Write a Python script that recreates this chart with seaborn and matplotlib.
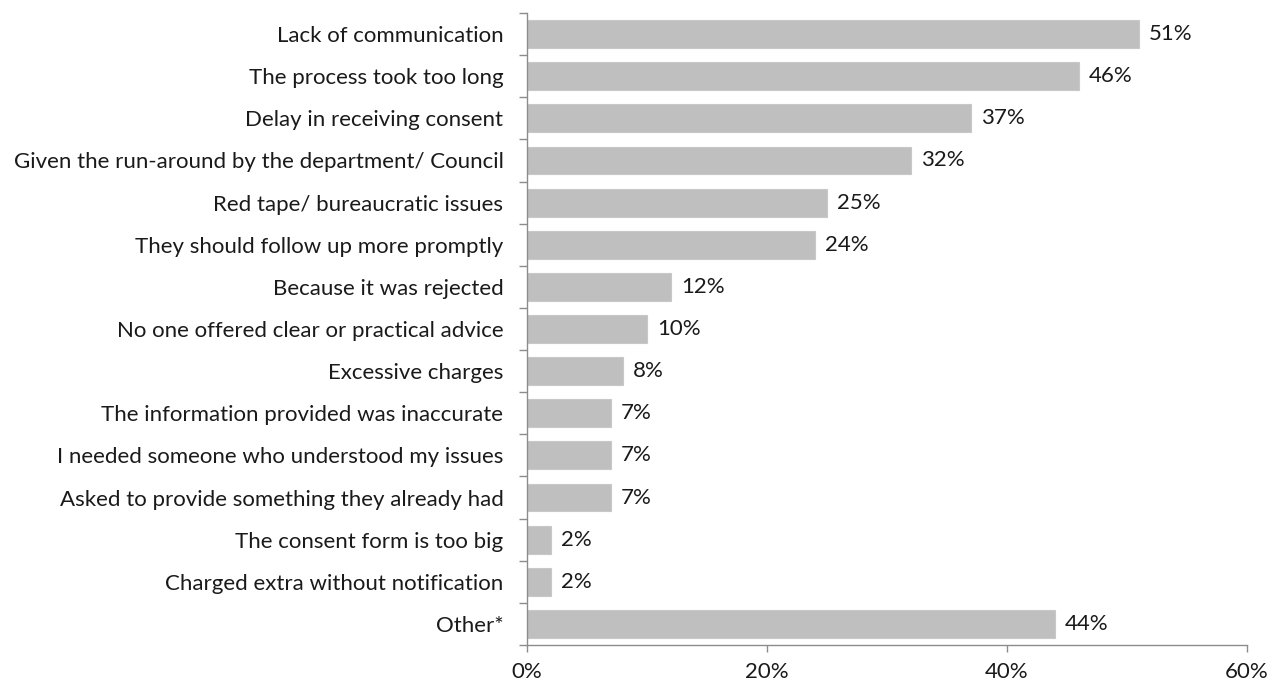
import matplotlib
matplotlib.use("Agg")
import matplotlib.pyplot as plt
import seaborn as sns
import pandas as pd
from matplotlib.ticker import FuncFormatter, FixedLocator

reasons = [
    "Lack of communication",
    "The process took too long",
    "Delay in receiving consent",
    "Given the run-around by the department/ Council",
    "Red tape/ bureaucratic issues",
    "They should follow up more promptly",
    "Because it was rejected",
    "No one offered clear or practical advice",
    "Excessive charges",
    "The information provided was inaccurate",
    "I needed someone who understood my issues",
    "Asked to provide something they already had",
    "The consent form is too big",
    "Charged extra without notification",
    "Other*",
]
shares = [51, 46, 37, 32, 25, 24, 12, 10, 8, 7, 7, 7, 2, 2, 44]
x_ticks = [0, 20, 40, 60]

df = pd.DataFrame({"reason": reasons, "share": shares})

sns.set_theme(style="white")
plt.rcParams["font.family"] = ["Lato", "DejaVu Sans"]

FS = 16
fig = plt.figure(figsize=(12.74, 6.86), dpi=100)
ax = fig.add_axes([527 / 1274, 1 - 645 / 686, 720 / 1274, 632 / 686])

sns.barplot(data=df, y="reason", x="share", orient="h", color="#BFBFBF",
            saturation=1, width=0.66, ax=ax, edgecolor="#C8C8C8", linewidth=0.8)

ax.set_xlim(0, 60)
ax.set_ylim(len(reasons) - 0.5, -0.5)
ax.xaxis.set_major_locator(FixedLocator(x_ticks))
ax.xaxis.set_major_formatter(FuncFormatter(lambda v, p: f"{v:.0f}%"))

# category-boundary tick marks on the y axis
ax.yaxis.set_major_locator(FixedLocator(range(len(reasons))))
ax.set_yticklabels(reasons)
ax.yaxis.set_minor_locator(FixedLocator([i - 0.5 for i in range(len(reasons) + 1)]))
ax.tick_params(axis="y", which="major", length=0, pad=17, labelsize=FS, labelcolor="#1a1a1a")
ax.tick_params(axis="y", which="minor", left=True, length=6, width=1, color="#8c8c8c", direction="out")
ax.tick_params(axis="x", which="major", bottom=True, length=5, width=1, color="#8c8c8c",
               direction="out", pad=7, labelsize=FS, labelcolor="#1a1a1a")

for side in ["top", "right"]:
    ax.spines[side].set_visible(False)
for side in ["left", "bottom"]:
    ax.spines[side].set_color("#8c8c8c")
    ax.spines[side].set_linewidth(1)

ax.set_xlabel("")
ax.set_ylabel("")

for cont in ax.containers:
    ax.bar_label(cont, labels=[f"{v}%" for v in shares], padding=7,
                 fontsize=FS, color="#1a1a1a")

fig.savefig("out.png", dpi=100)
